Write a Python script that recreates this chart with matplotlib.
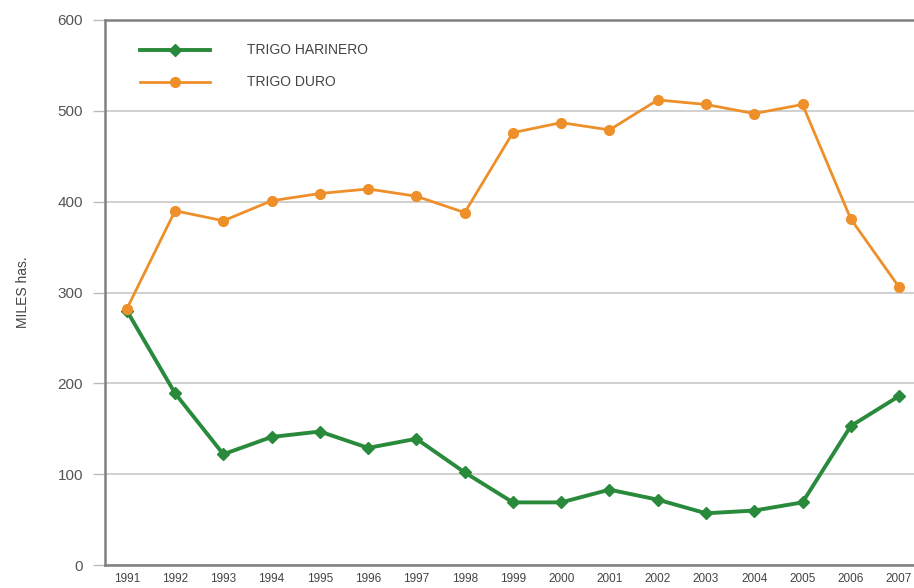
import matplotlib.pyplot as plt
from matplotlib import font_manager

# datos (miles de hectáreas)
years = list(range(1991, 2008))
harinero = [280, 189, 122, 141, 147, 129, 139, 102, 69, 69, 83, 72, 57, 60, 69, 153, 186]
duro = [282, 390, 379, 401, 409, 414, 406, 388, 476, 487, 479, 512, 507, 497, 507, 381, 306]
yticks = [0, 100, 200, 300, 400, 500, 600]

names = {f.name for f in font_manager.fontManager.ttflist}
fam = 'Liberation Sans Narrow' if 'Liberation Sans Narrow' in names else 'Liberation Sans'
plt.rcParams['font.family'] = [fam, 'DejaVu Sans']

fig = plt.figure(figsize=(9.14, 5.88), dpi=100)
ax = fig.add_axes([0.115, 0.039, 0.885, 0.927])

ax.plot(years, harinero, color='#2a8a3c', linewidth=2.8, marker='D', markersize=6,
        label='TRIGO HARINERO', zorder=3)
ax.plot(years, duro, color='#ef8f2a', linewidth=2.0, marker='o', markersize=7,
        label='TRIGO DURO', zorder=3)

ax.set_xlim(1990.55, 2007.31)
ax.set_ylim(0, 600)
ax.set_yticks(yticks)
ax.set_xticks(years)
ax.set_xticklabels([str(y) for y in years], fontsize=8.5, color='#444444')
ax.tick_params(axis='x', length=0, pad=6)
ax.tick_params(axis='y', length=9, width=1, color='#bbbbbb', labelsize=11,
               labelcolor='#555555', pad=7)

ax.grid(axis='y', color='#c8c8c8', linewidth=1.2, zorder=0)
for s in ['left', 'bottom', 'top']:
    ax.spines[s].set_color('#808080')
    ax.spines[s].set_linewidth(1.8)
ax.spines['right'].set_visible(False)

ax.set_ylabel('MILES has.', fontsize=10, color='#444444', labelpad=20)

leg = ax.legend(loc='upper left', bbox_to_anchor=(0.028, 0.98), frameon=False,
                fontsize=10, handlelength=5, labelspacing=1.3, handletextpad=2.7)
for t in leg.get_texts():
    t.set_color('#444444')

fig.savefig('out.png', dpi=100)
